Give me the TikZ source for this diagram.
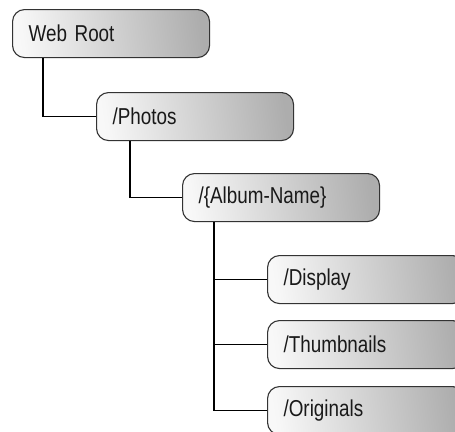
\documentclass[tikz,border=0pt]{standalone}
\usepackage{fontspec}
\setmainfont{Liberation Sans}[FakeStretch=0.82]
\pgfdeclarehorizontalshading{folderfade}{100bp}{color(0bp)=(white);
  color(25bp)=(white!97!black); color(75bp)=(black!32); color(100bp)=(black!32)}
\begin{document}
\begin{tikzpicture}[x=1pt,y=-1pt,
  folder/.style={draw=black!80, line width=1.1pt, rounded corners=12pt,
    shading=folderfade, shading angle=8,
    anchor=north west, minimum height=48pt, text width=165pt, inner xsep=16pt,
    align=left, font=\fontsize{23}{27}\selectfont, text=black!90},
  link/.style={line width=1.4pt, black}]
\clip (0,0) rectangle (455,431);
\node[folder] (root) at (12,9) {Web Root};
\node[folder] (photos) at (96,92) {/Photos};
\node[folder] (album) at (182,173) {/\{Album-Name\}};
\node[folder] (display) at (267,255) {/Display};
\node[folder] (thumbs) at (267,320) {/Thumbnails};
\node[folder] (orig) at (267,386) {/Originals};

\draw[link] ([xshift=31pt]root.south west) |- (photos.west);
\draw[link] ([xshift=34pt]photos.south west) |- (album.west);
\draw[link] ([xshift=32pt]album.south west) |- (display.west);
\draw[link] ([xshift=32pt]album.south west) |- (thumbs.west);
\draw[link] ([xshift=32pt]album.south west) |- (orig.west);
\end{tikzpicture}
\end{document}
